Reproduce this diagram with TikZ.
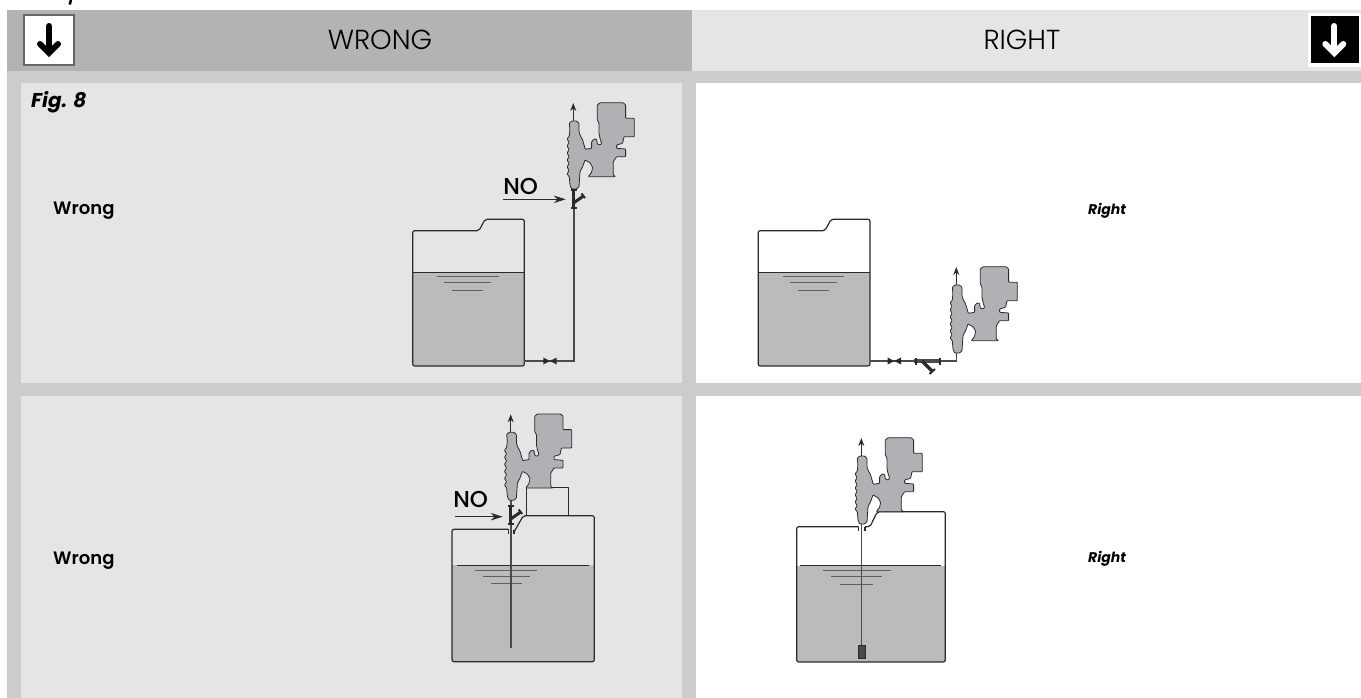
\documentclass[tikz,border=0pt]{standalone}
\usepackage{fontspec}
\setmainfont{Poppins}
\newfontfamily\medfont{Poppins Medium}
\newfontfamily\semifont{Poppins SemiBold}
\newfontfamily\lightfont{Poppins Light}
\usetikzlibrary{arrows.meta}
\definecolor{hdrdark}{HTML}{B3B3B3}
\definecolor{hdrlight}{HTML}{E5E5E5}
\definecolor{band}{HTML}{CCCCCC}
\definecolor{panelg}{HTML}{E5E5E5}
\definecolor{liquid}{HTML}{BBBBBB}
\definecolor{pumpfill}{HTML}{B1B0B5}
\definecolor{ink}{HTML}{2A2A2A}
\tikzset{
  x=1pt,y=-1pt,
  pipe/.style={draw=ink!85,line width=1.2pt},
  tankline/.style={draw=ink,line width=1.2pt,line join=round},
  ripple/.style={draw=ink!75,line width=1pt},
  flow/.style={draw=ink,line width=1pt,-{Stealth[length=8pt,width=6pt]}},
  nflow/.style={draw=ink,line width=1pt,-{Stealth[length=12pt,width=7.5pt]}},
  side/.style={font=\semifont\fontsize{18}{20}\selectfont,anchor=west,inner sep=0pt},
  sideit/.style={font=\bfseries\itshape\fontsize{14}{16}\selectfont,anchor=west,inner sep=0pt},
  head/.style={font=\lightfont\fontsize{27.5}{30}\selectfont,inner sep=0pt},
  nolabel/.style={font=\medfont\fontsize{23}{26}\selectfont,inner sep=0pt},
  pics/pump/.style={code={
    \draw[flow] (0,0) -- (0,-18);
    \draw[draw=ink,line width=0.8pt,fill=pumpfill,line join=round,rounded corners=0.7pt]
      (-4,2.3) -- (-1.7,0) -- (3.3,0) -- (5.7,2.3) -- (5.7,10.7) -- (6.7,14) -- (9.3,19) -- (12,28.3)
      -- (18.3,27.3) -- (18.3,20.7) -- (20.7,18) -- (23.3,18.3) -- (24,23) -- (26.7,24) -- (28.3,22.3)
      -- (26.7,17.3) -- (25.7,12.3) -- (25.7,2.3) -- (24,-1) -- (24,-16) -- (26.7,-18.3) -- (50,-18.3)
      -- (52.3,-16) -- (52.3,-2.7) -- (61,-2.7) -- (61,15.7) -- (50.7,15.7) -- (49.3,22.3) -- (43.3,24)
      -- (43.3,27.3) -- (52.3,28) -- (52.3,35.7) -- (43.3,35.7) -- (40,40.7) -- (40,54) -- (42.3,55.7)
      -- (15,55.7) -- (18.3,51.3) -- (19.3,46.3) -- (16.7,41.7) -- (11.7,39) -- (9.3,45.7) -- (6.7,50.7)
      -- (5.7,65.7) -- (3.3,68) -- (-1.7,68) -- (-3.3,64) -- (-4,55.7)
      -- (-6.2,53) -- (-4.2,49.5) -- (-6.2,46) -- (-4.2,42.5) -- (-6.2,39) -- (-4.2,35.5) -- (-6.2,32)
      -- (-4.2,28.5) -- (-6.2,25) -- (-4.2,21.5) -- (-6.2,18) -- (-4,15) -- (-3.4,9) -- cycle;
  }},
  pics/bowtie/.style={code={
    \fill[ink] (-6.7,-3.5) -- (0,0) -- (-6.7,3.5) -- cycle (6.7,-3.5) -- (0,0) -- (6.7,3.5) -- cycle;
  }},
  pics/vfilter/.style={code={
    \draw[ink,line width=3pt] (0,0) -- (0,18);
    \draw[ink,line width=2pt] (-3,0) -- (3,0) (-3,18) -- (3,18);
    \draw[ink,line width=3pt] (0,13) -- (10,6);
    \draw[ink,line width=2pt] (8,3.5) -- (11.5,8);
  }},
  pics/hfilter/.style={code={
    \draw[ink!85,line width=4pt] (0,0) -- (27,0);
    \draw[ink,line width=2pt] (1.5,-3.5) -- (1.5,3.5) (25.5,-3.5) -- (25.5,3.5);
    \draw[ink,line width=3.5pt] (8,0) -- (18.5,10.5);
    \draw[ink,line width=2pt] (15.5,13) -- (21,8);
  }},
}
\begin{document}
\begin{tikzpicture}
\useasboundingbox (0,0) rectangle (1361,698);
\fill[white] (0,0) rectangle (1361,698);
% bands
\fill[band] (7,71) rectangle (1361,698);
\fill[hdrdark] (7,10) rectangle (692,71);
\fill[hdrlight] (692,10) rectangle (1361,71);
\fill[panelg] (21,83) rectangle (682,383);
\fill[panelg] (21,396) rectangle (682,698);
\fill[white] (696,83) rectangle (1361,383);
\fill[white] (696,396) rectangle (1361,698);
% cut-off stroke at the top
\draw[black,line width=2.6pt] (71,0) -- (69.7,4.5);
% header icons
\node[draw=black!60,line width=1.8pt,fill=white,minimum size=50pt,inner sep=0pt] (iconL) at (49.2,39.8) {};
\fill[white] (1308,13) rectangle (1361,67);
\node[fill=black,minimum width=47.5pt,minimum height=47.5pt,inner sep=0pt] (iconR) at (1335,39.7) {};
\draw[black,line width=6pt,line cap=round] (49,26) -- (49,50);
\draw[black,line width=6pt,line cap=round,line join=miter] (40,44) -- (49,53) -- (58,44);
\draw[white,line width=6pt,line cap=round] (1334.3,26) -- (1334.3,50);
\draw[white,line width=6pt,line cap=round,line join=miter] (1325.3,44) -- (1334.3,53) -- (1343.3,44);
% header text
\node[head] (hW) at (380,40) {WRONG};
\node[head] (hR) at (1022,40) {RIGHT};
\node[sideit,font=\bfseries\itshape\fontsize{20}{22}\selectfont] (fig) at (31,102) {Fig. 8};
\node[side] (w1) at (53,211) {Wrong};
\node[side] (w2) at (53,561) {Wrong};
\node[sideit] (r1) at (1088,211) {Right};
\node[sideit] (r2) at (1088,559) {Right};

% ---- top-left
\fill[liquid] (412.7,272.3) rectangle (524.3,366);
\draw[tankline,rounded corners=2pt] (524.3,361) -- (524.3,366) -- (412.7,366) -- (412.7,230.7) -- (479,230.7) -- (485,219.3) -- (524.3,219.3) -- (524.3,361);
\draw[ink,line width=0.7pt] (412.7,272.3) -- (524.3,272.3);
\draw[ripple] (436.7,276.7) -- (498.7,276.7) (444.3,282.7) -- (490.7,282.7) (452.3,290) -- (483,290);
\coordinate (p1a) at (524.3,361);
\coordinate (p1b) at (574,361);
\coordinate (p1c) at (574,208);
\draw[pipe] (p1a) -- (p1b) -- (p1c);
\pic at (550,361) {bowtie};
\pic at (573.5,190) {vfilter};
\pic at (573.3,121) {pump};
\coordinate (n1a) at (503.3,199.3);
\coordinate (n1b) at (565.7,199.3);
\draw[nflow] (n1a) -- (n1b);
\node[nolabel] (no1) at (520.7,186) {NO};

% ---- top-right
\fill[liquid] (758.3,272.3) rectangle (870,366);
\draw[tankline,rounded corners=2pt] (870,361) -- (870,366) -- (758.3,366) -- (758.3,230.7) -- (825,230.7) -- (831,219.3) -- (870,219.3) -- (870,361);
\draw[ink,line width=0.7pt] (758.3,272.3) -- (870,272.3);
\draw[ripple] (782.7,276.7) -- (844.3,276.7) (790.3,282.7) -- (836.7,282.7) (798,290) -- (829,290);
\coordinate (p2a) at (870,361);
\coordinate (p2b) at (956.7,361);
\coordinate (p2c) at (956.7,352);
\draw[pipe] (p2a) -- (p2b) -- (p2c);
\pic at (894.3,361) {bowtie};
\pic at (914,361) {hfilter};
\pic at (956.3,285) {pump};

% ---- bottom-left
\fill[liquid] (452,565) rectangle (594.3,661.7);
\draw[tankline,rounded corners=2pt] (508.3,529.3) -- (452,529.3) -- (452,661.7) -- (594.3,661.7) -- (594.3,515.7) -- (523.3,515.7) -- (514,532);
\draw[tankline] (508.3,529.3) -- (508.3,533.5);
\draw[tankline] (514,529.5) -- (514,533.5);
\draw[ink,line width=0.9pt] (457.3,565) -- (589,565);
\draw[ripple] (475.3,570) -- (537,570) (483,576) -- (529.7,576) (491,583.3) -- (521.7,583.3);
\draw[tankline] (526.7,515.7) -- (526.7,487.3) -- (568.3,487.3) -- (568.3,515.7);
\coordinate (p3a) at (511,499);
\coordinate (p3b) at (511,647.7);
\draw[pipe] (p3a) -- (p3b);
\pic at (510.7,506) {vfilter};
\pic at (510.7,432.3) {pump};
\coordinate (n3a) at (455,516.7);
\coordinate (n3b) at (502.7,516.7);
\draw[nflow] (n3a) -- (n3b);
\node[nolabel] (no3) at (470.7,499) {NO};

% ---- bottom-right
\fill[liquid] (796.7,565.7) rectangle (945.3,662);
\draw[tankline,rounded corners=2pt] (858.5,526.7) -- (796.7,526.7) -- (796.7,662) -- (945.3,662) -- (945.3,511.7) -- (877.3,511.7) -- (870,526.7) -- (865,526.7);
\draw[tankline] (858.5,526.7) -- (858.5,531);
\draw[tankline] (865,526.7) -- (865,531);
\draw[ink,line width=0.9pt] (800,565.7) -- (941,565.7);
\draw[ripple] (822.7,570.3) -- (890.7,570.3) (831,576.7) -- (881.7,576.7) (840,584) -- (873.3,584);
\node[draw=ink,fill=ink!85,minimum width=6.5pt,minimum height=13pt,inner sep=0pt,anchor=north] (foot) at (861.7,644.5) {};
\coordinate (p4a) at (861.7,523);
\draw[pipe] (p4a) -- (foot.north);
\pic at (861.3,456) {pump};
\end{tikzpicture}
\end{document}
